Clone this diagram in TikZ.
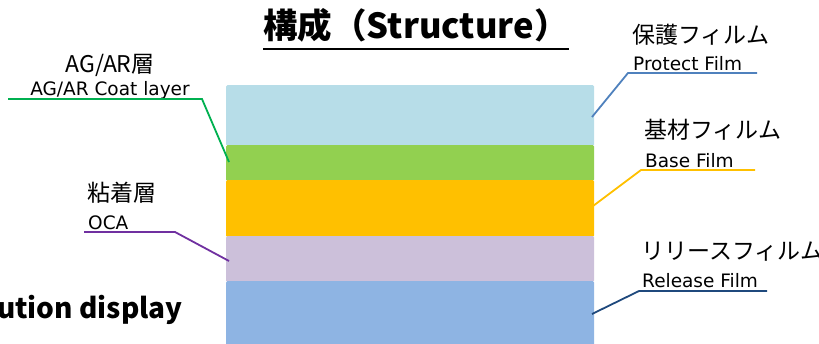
\documentclass[tikz,border=0pt]{standalone}
\usepackage{fontspec}
\setmainfont{Noto Sans CJK JP}
\newfontfamily\latinlab{DejaVu Sans}
\begin{document}
\begin{tikzpicture}[x=1pt,y=-1pt,
  layer/.style={draw=none,rounded corners=1.5pt},
  jp/.style={font=\fontsize{23}{26}\selectfont,inner sep=0pt},
  en/.style={font=\latinlab\fontsize{18.5}{20}\selectfont,inner sep=0pt},
  lead/.style={line width=1.8pt}]
\definecolor{cProt}{HTML}{B7DDE8}
\definecolor{cAG}{HTML}{92D050}
\definecolor{cBase}{HTML}{FFC000}
\definecolor{cOCA}{HTML}{CCC0DA}
\definecolor{cRel}{HTML}{8EB4E3}
\definecolor{lGreen}{HTML}{00B050}
\definecolor{lPurple}{HTML}{7030A0}
\definecolor{lBlue}{HTML}{4F81BD}
\definecolor{lOrange}{HTML}{FFC000}
\definecolor{lNavy}{HTML}{1F497D}
\useasboundingbox (0,0) rectangle (819,343);
% layers
\fill[layer,cProt] (226,85) rectangle (594,146);
\fill[layer,cAG] (226,145) rectangle (594,181);
\fill[layer,cBase] (226,180) rectangle (594,237);
\fill[layer,cOCA] (226,236) rectangle (594,282);
\fill[layer,cRel] (226,281) rectangle (594,350);
\coordinate (pAG) at (229,162);
\coordinate (pOCA) at (229,261);
\coordinate (pProt) at (592,117);
\coordinate (pBase) at (593,206);
\coordinate (pRel) at (592,314);
% title
\node[inner sep=0pt,anchor=base,font=\fontsize{34.5}{38}\selectfont\bfseries] (title) at (416,38) {構成（Structure）};
\draw[line width=2pt] ([yshift=-11pt]title.base west) -- ([yshift=-11pt]title.base east);
% left labels
\node[jp,anchor=base] (agj) at (110,72) {AG/AR層};
\node[en,anchor=base] (age) at (110,95) {AG/AR Coat layer};
\coordinate (agA) at (8,99);
\coordinate (agB) at (202,99);
\draw[lead,lGreen] (agA) -- (agB) -- (pAG);
\node[jp,anchor=west] (ocaj) at (87,193) {粘着層};
\node[en,anchor=base west] (ocae) at (88,229) {OCA};
\coordinate (ocaA) at (84,232);
\coordinate (ocaB) at (175,232);
\draw[lead,lPurple] (ocaA) -- (ocaB) -- (pOCA);
\node[inner sep=0pt,anchor=base east,font=\fontsize{28}{32}\selectfont\bfseries] (disp) at (183,318) {ution display};
% right labels
\node[jp,anchor=west] (protj) at (632,35) {保護フィルム};
\node[en,anchor=base west] (prote) at (633,70) {Protect Film};
\coordinate (protA) at (628,73);
\coordinate (protB) at (757,73);
\draw[lead,lBlue] (pProt) -- (protA) -- (protB);
\node[jp,anchor=west] (basej) at (644,130) {基材フィルム};
\node[en,anchor=base west] (basee) at (645,167) {Base Film};
\coordinate (baseA) at (641,170);
\coordinate (baseB) at (755,170);
\draw[lead,lOrange] (pBase) -- (baseA) -- (baseB);
\node[jp,anchor=west] (relj) at (641,252) {リリースフィルム};
\node[en,anchor=base west] (rele) at (642,287) {Release Film};
\coordinate (relA) at (639,291);
\coordinate (relB) at (767,291);
\draw[lead,lNavy] (pRel) -- (relA) -- (relB);
\end{tikzpicture}
\end{document}
